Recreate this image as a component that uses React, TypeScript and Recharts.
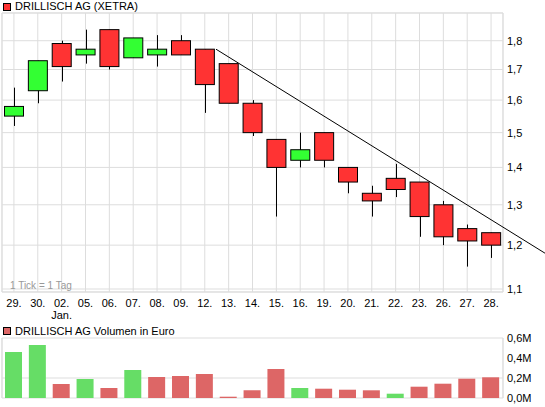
import React from "react";
import { ComposedChart, BarChart, Bar, XAxis, YAxis, CartesianGrid, ReferenceLine, Cell } from "recharts";

const dates = ["29.", "30.", "02.", "05.", "06.", "07.", "08.", "09.", "12.", "13.", "14.", "15.", "16.", "19.", "20.", "21.", "22.", "23.", "26.", "27.", "28."];
const monthLabels: Record<number, string> = { 2: "Jan." };
const opens = [1.55, 1.63, 1.79, 1.75, 1.84, 1.74, 1.75, 1.8, 1.77, 1.72, 1.59, 1.48, 1.42, 1.5, 1.4, 1.33, 1.37, 1.36, 1.3, 1.24, 1.23];
const highs = [1.64, 1.73, 1.8, 1.84, 1.84, 1.81, 1.82, 1.82, 1.77, 1.72, 1.6, 1.48, 1.5, 1.5, 1.4, 1.35, 1.41, 1.36, 1.31, 1.25, 1.23];
const lows = [1.52, 1.59, 1.66, 1.72, 1.7, 1.74, 1.71, 1.75, 1.56, 1.59, 1.49, 1.27, 1.4, 1.4, 1.33, 1.27, 1.32, 1.22, 1.2, 1.15, 1.17];
const closes = [1.58, 1.73, 1.71, 1.77, 1.71, 1.81, 1.77, 1.75, 1.65, 1.59, 1.5, 1.4, 1.45, 1.42, 1.36, 1.31, 1.34, 1.27, 1.22, 1.21, 1.2];
// volume in million euro
const volumes = [0.46, 0.53, 0.14, 0.19, 0.1, 0.28, 0.21, 0.22, 0.24, 0.013, 0.077, 0.29, 0.1, 0.093, 0.083, 0.077, 0.043, 0.113, 0.143, 0.193, 0.207];

const priceTicks = [1.1, 1.2, 1.3, 1.4, 1.5, 1.6, 1.7, 1.8];
const priceDomain = [1.0935, 1.9017];
const volumeTicks = [0, 0.2, 0.4, 0.6];
const trendLine = [{ x: 8.47, y: 1.77 }, { x: 22.26, y: 1.181 }];

const UP = "#33ff33";
const DOWN = "#ff3333";
const VOL_UP = "#66dd66";
const VOL_DOWN = "#dd6666";
const GRID = "#dddddd";
const FONT = "'Liberation Sans', Arial, sans-serif";

const rows = dates.map((date, i) => ({
  i,
  date,
  open: opens[i],
  high: highs[i],
  low: lows[i],
  close: closes[i],
  range: [lows[i], highs[i]],
  volume: volumes[i],
  volUp: closes[i] >= (i === 0 ? opens[i] : closes[i - 1]),
}));

function Candle(props: any) {
  const { x, y, width, height, payload } = props;
  const top = Math.min(y, y + height);
  const bottom = Math.max(y, y + height);
  const lh = Math.log(payload.high);
  const ll = Math.log(payload.low);
  const toY = (v: number) => (lh === ll ? top : top + ((bottom - top) * (lh - Math.log(v))) / (lh - ll));
  const cx = Math.round(x + width / 2) + 0.5;
  const up = payload.close >= payload.open;
  const y1 = toY(Math.max(payload.open, payload.close));
  const y2 = toY(Math.min(payload.open, payload.close));
  return (
    <g>
      <line x1={cx} x2={cx} y1={top} y2={bottom} stroke="#000" strokeWidth={1} />
      <rect x={x + 0.5} y={y1} width={width - 1} height={Math.max(y2 - y1, 1)} fill={up ? UP : DOWN} stroke="#000" strokeWidth={1} />
    </g>
  );
}

function DateTick(props: any) {
  const { x, y, payload, index } = props;
  const month = monthLabels[index];
  return (
    <g>
      <text x={x} y={y + 7} textAnchor="middle" fontSize={11} fontFamily={FONT} fill="#000">{payload.value}</text>
      {month && <text x={x} y={y + 19} textAnchor="middle" fontSize={11} fontFamily={FONT} fill="#000">{month}</text>}
    </g>
  );
}

const comma = (v: number) => v.toFixed(1).replace(".", ",");

export default function App() {
  return (
    <div style={{ position: "absolute", left: 0, top: 0, width: 545, height: 407, background: "#fff", fontFamily: FONT, overflow: "hidden" }}>
      <div style={{ position: "absolute", left: 0, top: 0 }}>
        <ComposedChart width={545} height={327} data={rows} margin={{ top: 13, right: 0, bottom: 0, left: 2 }}>
          <CartesianGrid stroke={GRID} />
          <XAxis dataKey="date" interval={0} tickLine={false} axisLine={false} height={35} tick={DateTick} />
          <XAxis xAxisId="t" type="number" dataKey="i" domain={[-0.5, 20.5]} allowDataOverflow hide />
          <YAxis
            orientation="right"
            width={42}
            scale="log"
            domain={priceDomain}
            allowDataOverflow
            ticks={priceTicks}
            tickFormatter={comma}
            tickLine={false}
            axisLine={false}
            tickSize={0}
            tickMargin={4}
            tick={{ fontSize: 11, fill: "#000", fontFamily: FONT }}
          />
          <ReferenceLine xAxisId="t" x={-0.5} stroke={GRID} />
          <ReferenceLine xAxisId="t" x={20.5} stroke={GRID} />
          <ReferenceLine y={priceDomain[1]} stroke={GRID} />
          <ReferenceLine y={priceDomain[0]} stroke={GRID} />
          <Bar dataKey="range" barSize={20} shape={Candle} isAnimationActive={false} />
          <ReferenceLine xAxisId="t" segment={trendLine} stroke="#000" strokeWidth={1} ifOverflow="visible" />
        </ComposedChart>
      </div>
      <div style={{ position: "absolute", left: 3, top: 3, width: 8, height: 8, boxSizing: "border-box", background: DOWN, border: "1px solid #000" }} />
      <div style={{ position: "absolute", left: 15, top: 0, fontSize: 11, lineHeight: "13px", color: "#000", whiteSpace: "nowrap" }}>DRILLISCH AG (XETRA)</div>
      <div style={{ position: "absolute", left: 10, top: 279, fontSize: 10, lineHeight: "13px", color: "#999", whiteSpace: "nowrap" }}>1 Tick = 1 Tag</div>

      <div style={{ position: "absolute", left: 3, top: 327, width: 8, height: 8, boxSizing: "border-box", background: VOL_DOWN, border: "1px solid #000" }} />
      <div style={{ position: "absolute", left: 15, top: 325, fontSize: 11, lineHeight: "13px", color: "#000", whiteSpace: "nowrap" }}>DRILLISCH AG Volumen in Euro</div>
      <div style={{ position: "absolute", left: 0, top: 325 }}>
        <BarChart width={545} height={82} data={rows} margin={{ top: 13, right: 0, bottom: 8, left: 2 }}>
          <CartesianGrid stroke={GRID} />
          <XAxis dataKey="date" interval={0} tick={false} tickLine={false} axisLine={false} height={1} />
          <XAxis xAxisId="t" type="number" dataKey="i" domain={[-0.5, 20.5]} allowDataOverflow hide />
          <YAxis
            orientation="right"
            width={42}
            domain={[0, 0.6]}
            ticks={volumeTicks}
            tickFormatter={(v: number) => comma(v) + "M"}
            tickLine={false}
            axisLine={false}
            tickSize={0}
            tickMargin={4}
            tick={{ fontSize: 11, fill: "#000", fontFamily: FONT }}
          />
          <ReferenceLine xAxisId="t" x={-0.5} stroke={GRID} />
          <ReferenceLine xAxisId="t" x={20.5} stroke={GRID} />
          <Bar dataKey="volume" barSize={17} isAnimationActive={false}>
            {rows.map((r) => (
              <Cell key={r.i} fill={r.volUp ? VOL_UP : VOL_DOWN} />
            ))}
          </Bar>
        </BarChart>
      </div>
    </div>
  );
}
